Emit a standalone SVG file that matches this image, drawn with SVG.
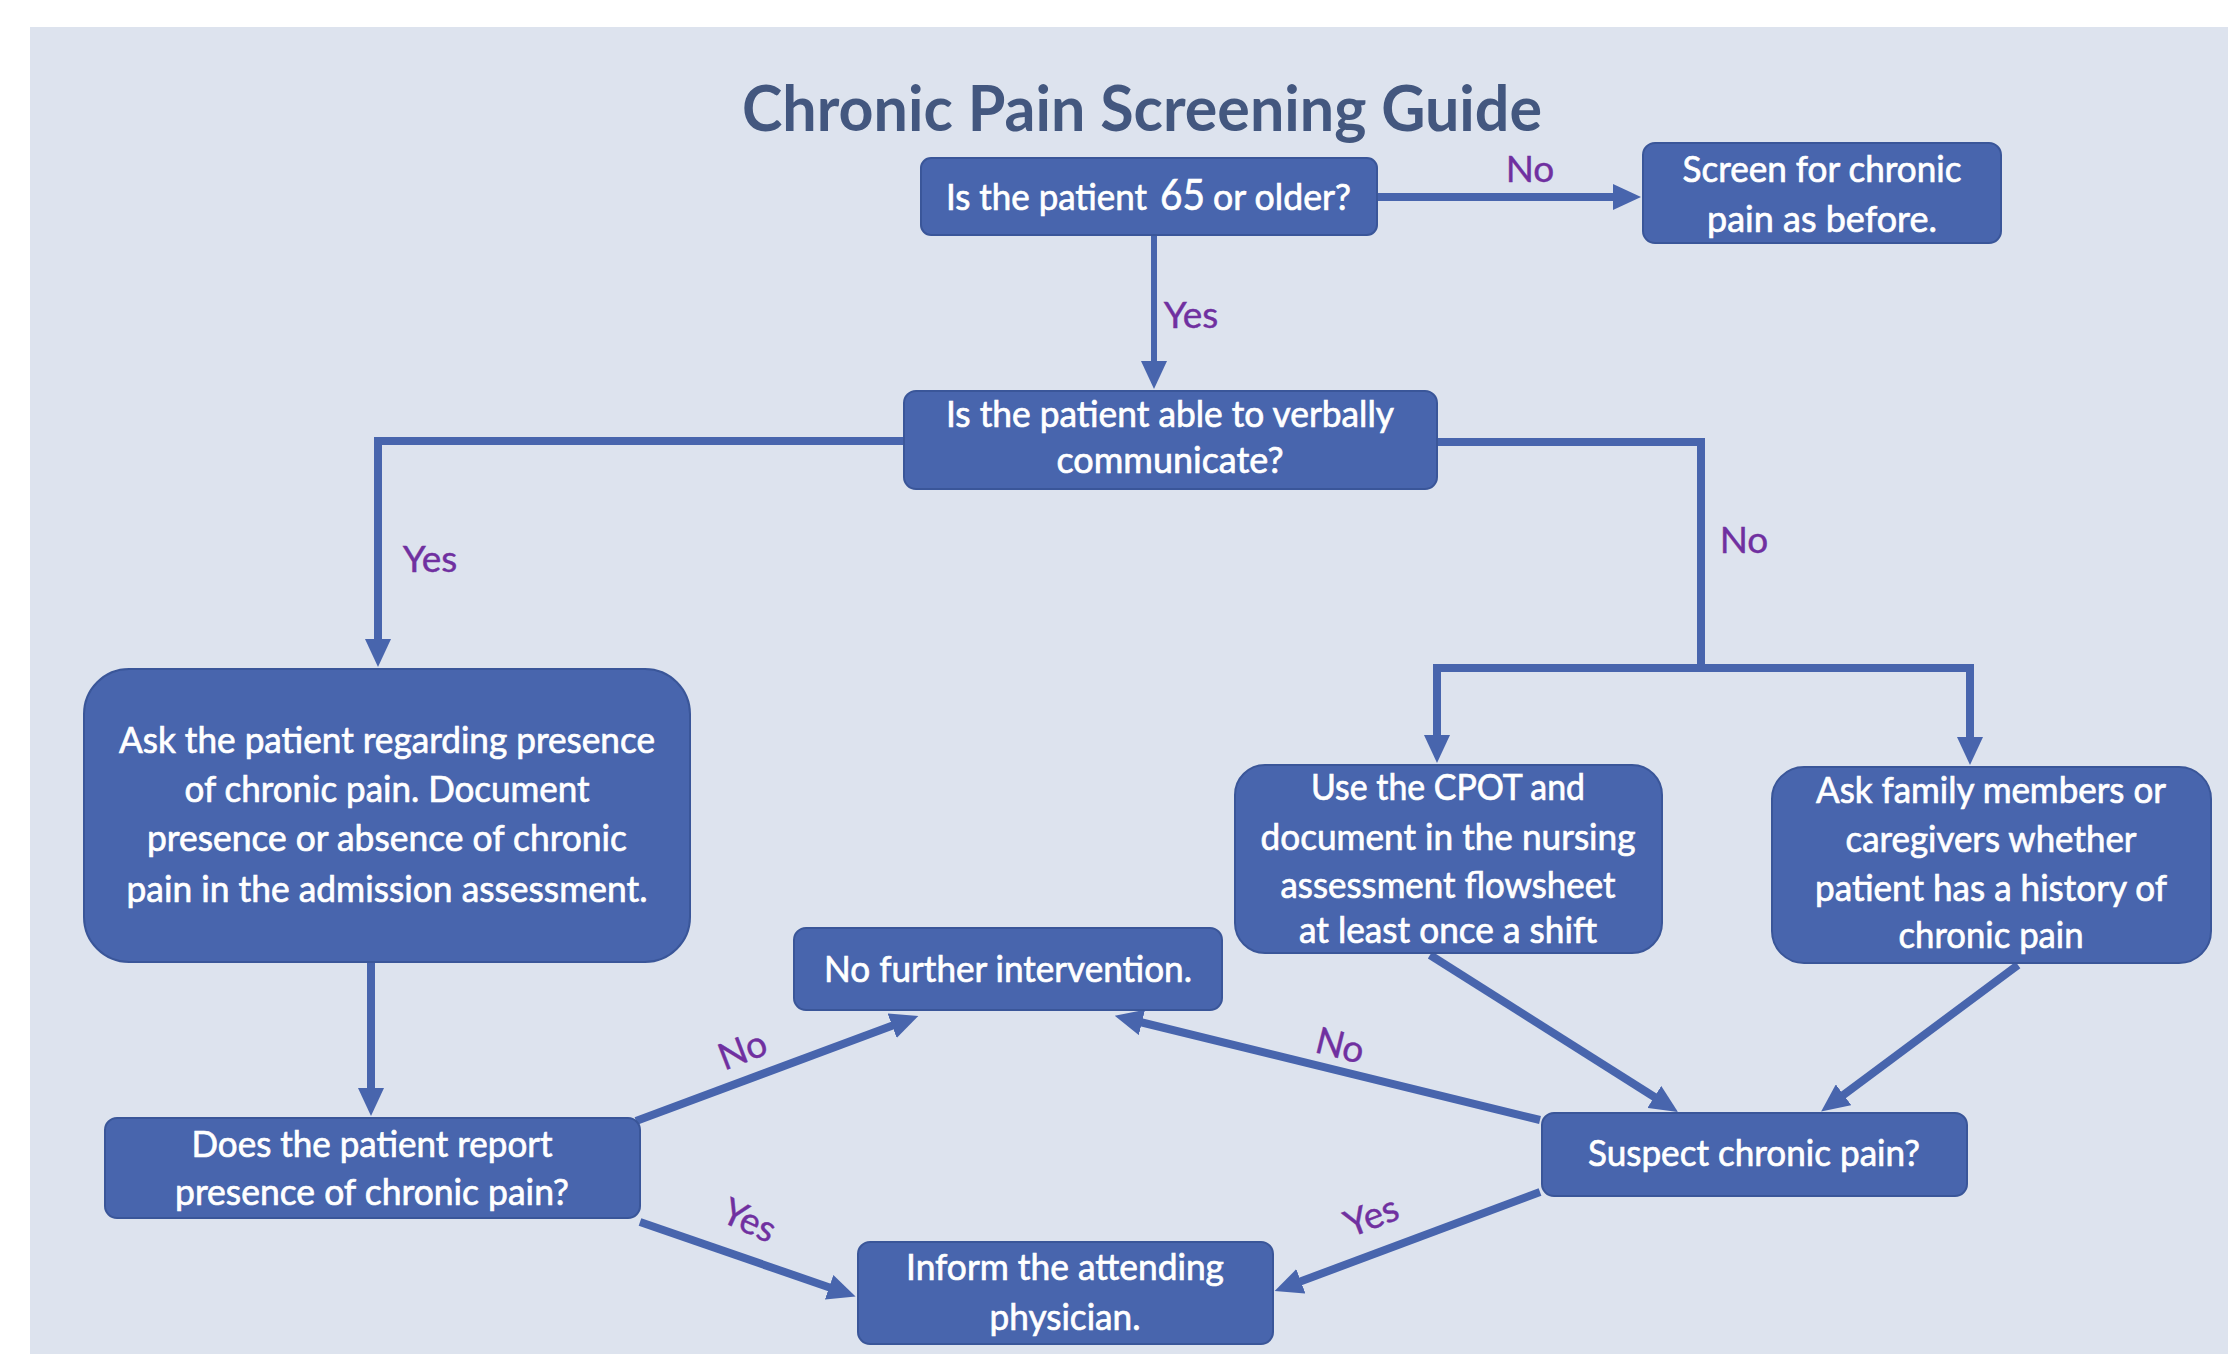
<svg xmlns="http://www.w3.org/2000/svg" width="2228" height="1354" viewBox="0 0 2228 1354">
<defs>
<style>
.box{fill:#4865ad;stroke:#3a5699;stroke-width:2}
.t{font-family:Lato,"Open Sans","Liberation Sans",sans-serif;font-size:37px;fill:#ffffff;stroke:#ffffff;stroke-width:0.7;text-anchor:middle}
.s{text-anchor:start}
.lbl{font-family:Lato,"Open Sans","Liberation Sans",sans-serif;font-size:37px;fill:#7030a0;stroke:#7030a0;stroke-width:0.4;text-anchor:middle}
.title{font-family:Lato,"Open Sans","Liberation Sans",sans-serif;font-size:63px;font-weight:bold;fill:#43577f;text-anchor:middle}
.c{fill:none;stroke:#4865ad;stroke-width:8;stroke-linejoin:miter}
</style>
<marker id="ah" viewBox="0 0 28 26" refX="2" refY="13" markerWidth="28" markerHeight="26" markerUnits="userSpaceOnUse" orient="auto-start-reverse">
<path d="M0,0 L28,13 L0,26 z" fill="#4865ad"/>
</marker>
</defs>
<rect x="0" y="0" width="2228" height="1354" fill="#ffffff"/>
<rect x="30" y="27" width="2198" height="1327" fill="#dde3ee"/>
<text class="title" x="1142" y="131" textLength="800" lengthAdjust="spacingAndGlyphs">Chronic Pain Screening Guide</text>

<g id="connectors">
<path class="c" d="M1377,197 H1615" marker-end="url(#ah)"/>
<path class="c" style="stroke-width:6" d="M1154,235 V363" marker-end="url(#ah)"/>
<path class="c" d="M904,441 H378 V641" marker-end="url(#ah)"/>
<path class="c" d="M1437,442 H1701 V668"/>
<path class="c" d="M1437,737 V668 H1970 V739" marker-start="url(#ah)" marker-end="url(#ah)"/>
<path class="c" d="M371,962 V1090" marker-end="url(#ah)"/>
<path class="c" d="M636,1121 L894,1025" marker-end="url(#ah)"/>
<path class="c" d="M640,1222 L831,1288" marker-end="url(#ah)"/>
<path class="c" d="M1540,1120 L1140,1022" marker-end="url(#ah)"/>
<path class="c" d="M1540,1192 L1299,1282" marker-end="url(#ah)"/>
<path class="c" d="M1430,955 L1656,1098" marker-end="url(#ah)"/>
<path class="c" d="M2018,965 L1842,1096" marker-end="url(#ah)"/>
<text class="lbl" x="1530" y="182">No</text>
<text class="lbl" x="1191" y="328">Yes</text>
<text class="lbl" x="430" y="572">Yes</text>
<text class="lbl" x="1744" y="553">No</text>
<text class="lbl" transform="translate(747,1062) rotate(-21)" x="0" y="0">No</text>
<text class="lbl" transform="translate(744,1232) rotate(25)" x="0" y="0">Yes</text>
<text class="lbl" transform="translate(1337,1058) rotate(14)" x="0" y="0">No</text>
<text class="lbl" transform="translate(1376,1228) rotate(-21)" x="0" y="0">Yes</text>
</g>

<g id="n1">
<rect class="box" x="921" y="158" width="456" height="77" rx="10"/>
<text class="t s" x="946" y="210" textLength="201" lengthAdjust="spacingAndGlyphs">Is the patient</text>
<text class="t s" x="1160" y="210" textLength="45" lengthAdjust="spacingAndGlyphs" style="font-size:43px">65</text>
<text class="t s" x="1213" y="210" textLength="138" lengthAdjust="spacingAndGlyphs">or older?</text>
</g>
<g id="n2">
<rect class="box" x="1643" y="143" width="358" height="100" rx="12"/>
<text class="t" x="1822" y="182" textLength="279" lengthAdjust="spacingAndGlyphs">Screen for chronic</text>
<text class="t" x="1822" y="232" textLength="230" lengthAdjust="spacingAndGlyphs">pain as before.</text>
</g>
<g id="n3">
<rect class="box" x="904" y="391" width="533" height="98" rx="12"/>
<text class="t" x="1170" y="427" textLength="448" lengthAdjust="spacingAndGlyphs">Is the patient able to verbally</text>
<text class="t" x="1170" y="473" textLength="227" lengthAdjust="spacingAndGlyphs">communicate?</text>
</g>
<g id="n4">
<rect class="box" x="84" y="669" width="606" height="293" rx="45"/>
<text class="t" x="387" y="753" textLength="536" lengthAdjust="spacingAndGlyphs">Ask the patient regarding presence</text>
<text class="t" x="387" y="802" textLength="405" lengthAdjust="spacingAndGlyphs">of chronic pain. Document</text>
<text class="t" x="387" y="851" textLength="480" lengthAdjust="spacingAndGlyphs">presence or absence of chronic</text>
<text class="t" x="387" y="902" textLength="521" lengthAdjust="spacingAndGlyphs">pain in the admission assessment.</text>
</g>
<g id="n5">
<rect class="box" x="1235" y="765" width="427" height="188" rx="30"/>
<text class="t" x="1448" y="800" textLength="274" lengthAdjust="spacingAndGlyphs">Use the CPOT and</text>
<text class="t" x="1448" y="850" textLength="375" lengthAdjust="spacingAndGlyphs">document in the nursing</text>
<text class="t" x="1448" y="898" textLength="335" lengthAdjust="spacingAndGlyphs">assessment flowsheet</text>
<text class="t" x="1448" y="943" textLength="298" lengthAdjust="spacingAndGlyphs">at least once a shift</text>
</g>
<g id="n6">
<rect class="box" x="1772" y="767" width="439" height="196" rx="32"/>
<text class="t" x="1991" y="803" textLength="350" lengthAdjust="spacingAndGlyphs">Ask family members or</text>
<text class="t" x="1991" y="852" textLength="291" lengthAdjust="spacingAndGlyphs">caregivers whether</text>
<text class="t" x="1991" y="901" textLength="352" lengthAdjust="spacingAndGlyphs">patient has a history of</text>
<text class="t" x="1991" y="948" textLength="185" lengthAdjust="spacingAndGlyphs">chronic pain</text>
</g>
<g id="n7">
<rect class="box" x="794" y="928" width="428" height="82" rx="12"/>
<text class="t" x="1008" y="982" textLength="368" lengthAdjust="spacingAndGlyphs">No further intervention.</text>
</g>
<g id="n8">
<rect class="box" x="105" y="1118" width="535" height="100" rx="12"/>
<text class="t" x="372" y="1157" textLength="361" lengthAdjust="spacingAndGlyphs">Does the patient report</text>
<text class="t" x="372" y="1205" textLength="394" lengthAdjust="spacingAndGlyphs">presence of chronic pain?</text>
</g>
<g id="n9">
<rect class="box" x="1542" y="1113" width="425" height="83" rx="12"/>
<text class="t" x="1754" y="1166" textLength="332" lengthAdjust="spacingAndGlyphs">Suspect chronic pain?</text>
</g>
<g id="n10">
<rect class="box" x="858" y="1242" width="415" height="102" rx="12"/>
<text class="t" x="1065" y="1280" textLength="318" lengthAdjust="spacingAndGlyphs">Inform the attending</text>
<text class="t" x="1065" y="1330" textLength="151" lengthAdjust="spacingAndGlyphs">physician.</text>
</g>
</svg>
